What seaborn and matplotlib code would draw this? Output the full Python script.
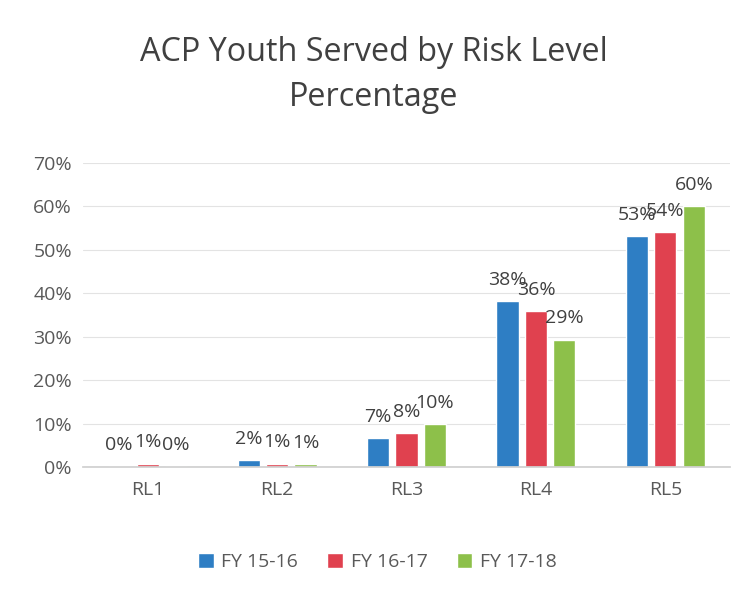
import pandas as pd
import matplotlib
matplotlib.use("Agg")
import matplotlib.pyplot as plt
import seaborn as sns

# Data (percent)
levels = ["RL1", "RL2", "RL3", "RL4", "RL5"]
fy1516 = [0.2, 1.6, 6.6, 38.2, 53.1]
fy1617 = [0.7, 0.7, 7.8, 35.9, 54.1]
fy1718 = [0.2, 0.6, 9.9, 29.3, 60.0]
series = ["FY 15-16", "FY 16-17", "FY 17-18"]
colors = ["#2e7ec4", "#e0414f", "#8dc04a"]

df = pd.DataFrame({
    "level": levels * 3,
    "pct": fy1516 + fy1617 + fy1718,
    "year": [s for s in series for _ in levels],
})

sns.set_theme(style="white")
plt.rcParams["font.family"] = ["Open Sans", "DejaVu Sans"]

fig = plt.figure(figsize=(7.33, 5.95), dpi=100)
ax = fig.add_axes([83 / 733, 128 / 595, 647 / 733, 304 / 595])

sns.barplot(data=df, x="level", y="pct", hue="year", palette=colors,
            width=0.66, gap=0.22, ax=ax, saturation=1)

for cont in ax.containers:
    ax.bar_label(cont, fmt="%.0f%%", padding=9, fontsize=14, color="#404040")

ax.set_ylim(0, 70)
ax.set_yticks(range(0, 71, 10))
ax.set_yticklabels([f"{t}%" for t in range(0, 71, 10)])
ax.tick_params(axis="both", labelsize=14, colors="#595959", length=0)
ax.tick_params(axis="y", pad=8)
ax.tick_params(axis="x", pad=10)
ax.set_xlabel("")
ax.set_ylabel("")
ax.yaxis.grid(True, color="#e3e3e3", linewidth=0.8)
ax.set_axisbelow(True)
for s in ["top", "right", "left"]:
    ax.spines[s].set_visible(False)
ax.spines["bottom"].set_color("#d0d0d0")

handles, labels = ax.get_legend_handles_labels()
ax.legend_.remove()
fig.legend(handles, labels, loc="center", bbox_to_anchor=(0.515, 1 - 562 / 595),
           ncol=3, frameon=False, fontsize=14, handlelength=0.8, handleheight=0.8,
           handletextpad=0.4, columnspacing=1.5, labelcolor="#595959")

fig.text(0.51, 1 - 75 / 595, "ACP Youth Served by Risk Level\nPercentage",
         ha="center", va="center", fontsize=23.3, color="#404040", linespacing=1.45)

fig.savefig("out.png", dpi=100)
